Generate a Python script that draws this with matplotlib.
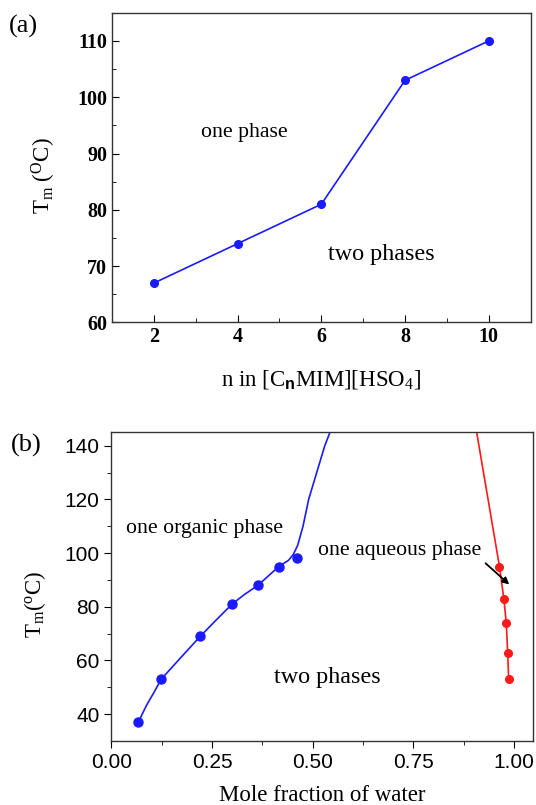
import numpy as np
import matplotlib
matplotlib.use('Agg')
import matplotlib.pyplot as plt

plt.rcParams['mathtext.fontset'] = 'custom'
plt.rcParams['mathtext.rm'] = 'Liberation Serif'
plt.rcParams['mathtext.it'] = 'Liberation Serif:italic'
plt.rcParams['mathtext.bf'] = 'Liberation Sans:bold'

# (a) transition temperature vs chain length
n_vals = [2, 4, 6, 8, 10]
tm_a = [67, 74, 81, 103, 110]

# (b) phase diagram, organic branch (points + fitted curve)
org_x = [0.067, 0.124, 0.221, 0.299, 0.364, 0.416, 0.461]
org_y = [37, 53, 69, 81, 88, 95, 98]
org_fit_x = [0.067, 0.088, 0.105, 0.124, 0.171, 0.221, 0.26, 0.30, 0.33, 0.364, 0.39,
             0.416, 0.44, 0.452, 0.463, 0.476, 0.49, 0.51, 0.53, 0.543]
org_fit_y = [37, 43.4, 47.8, 53, 60.8, 69, 75, 81, 84.5, 88, 91.5,
             95, 97.3, 99.5, 103, 110, 120, 130, 140, 145]

# aqueous branch
aq_x = [0.9636, 0.9746, 0.9805, 0.984, 0.9864]
aq_y = [95, 82.8, 73.9, 62.6, 53.1]
aq_top = (0.907, 145)

serif = 'Liberation Serif'
sans = 'Liberation Sans'

fig = plt.figure(figsize=(5.36, 8.05), dpi=100)

# ---------- panel (a) ----------
ax1 = fig.add_axes([0.209, 0.5994, 0.781, 0.3848])
ax1.plot(n_vals, tm_a, color='#1a1aff', linewidth=1.2, marker='o', markersize=5.5)
ax1.set_xlim(1, 11)
ax1.set_ylim(60, 115)
ax1.set_xticks([2, 4, 6, 8, 10])
ax1.set_xticks([3, 5, 7, 9], minor=True)
ax1.set_yticks([60, 70, 80, 90, 100, 110])
ax1.set_yticks([65, 75, 85, 95, 105], minor=True)
ax1.tick_params(which='both', direction='in', top=False, right=False)
ax1.tick_params(which='major', length=5)
ax1.tick_params(which='minor', length=3)
for lab in ax1.get_xticklabels() + ax1.get_yticklabels():
    lab.set_fontfamily(serif)
    lab.set_fontweight('bold')
    lab.set_fontsize(14.5)
ax1.set_xlabel('n in [C$_\\mathbf{n}$MIM][HSO$_4$]', fontfamily=serif, fontsize=16.5)
ax1.set_ylabel('T$_\\mathrm{m}$ ($^\\mathrm{O}$C)', fontfamily=serif, fontsize=16.5)
ax1.xaxis.set_label_coords(0.5, -0.147)
ax1.yaxis.set_label_coords(-0.129, 0.473)
ax1.text(4.15, 93.8, 'one phase', fontfamily=serif, fontsize=15.7, ha='center', va='center')
ax1.text(7.44, 72.1, 'two phases', fontfamily=serif, fontsize=17.4, ha='center', va='center')
fig.text(23.6 / 536, 1 - 26.3 / 805, '(a)', fontfamily=serif, fontsize=19, ha='center', va='center')

# ---------- panel (b) ----------
ax2 = fig.add_axes([0.2075, 0.0795, 0.7863, 0.3835])
ax2.plot(org_fit_x, org_fit_y, color='#1a1aff', linewidth=1.2)
ax2.plot(org_x, org_y, 'o', color='#1a1aff', markersize=6.5)
ax2.plot([aq_top[0]] + aq_x, [aq_top[1]] + aq_y, color='#ff1a1a', linewidth=1.2)
ax2.plot(aq_x, aq_y, 'o', color='#ff1a1a', markersize=5.5)
ax2.set_xlim(0, 1.046)
ax2.set_ylim(30, 145)
ax2.set_xticks([0, 0.25, 0.5, 0.75, 1.0])
ax2.set_xticklabels(['0.00', '0.25', '0.50', '0.75', '1.00'])
ax2.set_xticks([0.125, 0.375, 0.625, 0.875], minor=True)
ax2.set_yticks([40, 60, 80, 100, 120, 140])
ax2.set_yticks([50, 70, 90, 110, 130], minor=True)
ax2.tick_params(which='both', direction='out', top=False, right=False)
ax2.tick_params(which='major', length=5)
ax2.tick_params(which='minor', length=3)
for lab in ax2.get_xticklabels() + ax2.get_yticklabels():
    lab.set_fontfamily(sans)
    lab.set_fontsize(15)
ax2.set_xlabel('Mole fraction of water', fontfamily=serif, fontsize=16.5)
ax2.set_ylabel('T$_\\mathrm{m}$($^\\mathrm{o}$C)', fontfamily=serif, fontsize=16.5)
ax2.xaxis.set_label_coords(0.5, -0.141)
ax2.yaxis.set_label_coords(-0.150, 0.444)
ax2.text(0.231, 109.3, 'one organic phase', fontfamily=serif, fontsize=15.7, ha='center', va='center')
ax2.text(0.716, 100.8, 'one aqueous phase', fontfamily=serif, fontsize=15.7, ha='center', va='center')
ax2.text(0.536, 53.6, 'two phases', fontfamily=serif, fontsize=17.4, ha='center', va='center')
ax2.annotate('', xy=(0.993, 87.6), xytext=(0.924, 96.9),
             arrowprops=dict(arrowstyle='-|>', color='black', lw=1.3, mutation_scale=10))
fig.text(26 / 536, 1 - 445 / 805, '(b)', fontfamily=serif, fontsize=19, ha='center', va='center')

for ax in (ax1, ax2):
    for sp in ax.spines.values():
        sp.set_linewidth(1.0)
        sp.set_color('#333333')

plt.savefig('out.png', dpi=100)
